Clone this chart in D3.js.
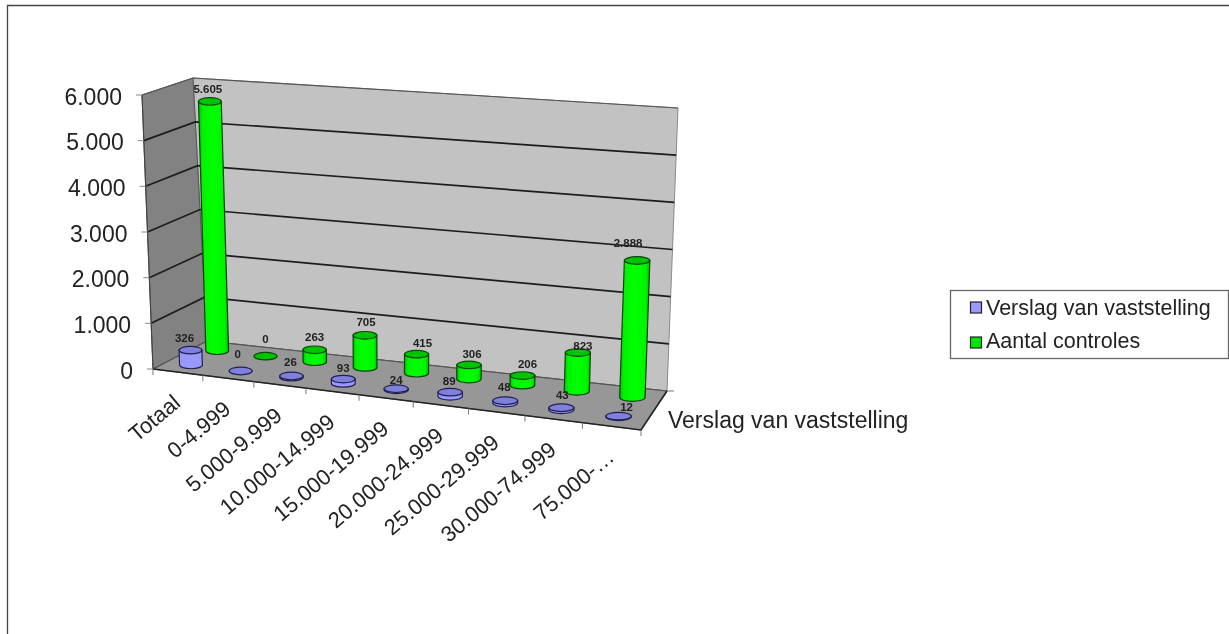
<!DOCTYPE html>
<html>
<head>
<meta charset="utf-8">
<script src="https://cdnjs.cloudflare.com/ajax/libs/d3/7.8.5/d3.min.js"></script>
<style>
html,body{margin:0;padding:0;background:#fff;overflow:hidden}
svg{display:block;filter:blur(0.7px)}
text{font-family:"Liberation Sans",Arial,sans-serif;fill:#222}
</style>
</head>
<body>
<svg id="c" width="1229" height="634"></svg>
<script>
const categories = ["Totaal","0-4.999","5.000-9.999","10.000-14.999","15.000-19.999","20.000-24.999","25.000-29.999","30.000-74.999","75.000-…"];
const verslagValues = [326,0,26,93,24,89,48,43,12];
const controlesValues = [5605,0,263,705,415,306,206,823,2888];
const seriesNames = ["Verslag van vaststelling","Aantal controles"];
const yTicks = [0,1000,2000,3000,4000,5000,6000];
// Hand-placed label nudges (layout only, px)
const verslagLabelDx = [-6,-3,-1,0,0,-1,-1,1,8];
const verslagLabelDy = [-12,-17,-14,-11,-9,-11,-14,-13,-9];
const controlesLabelDx = [-2,0,0,1,6,3,5,5,-9];
const controlesLabelDy = [-12,-17,-13,-13,-11,-11,-12,-7,-17];
const fmt = v => d3.format(",")(v).replace(/,/g,".");

const svg = d3.select("#c");
const defs = svg.append("defs");
const grad = defs.append("linearGradient").attr("id","gGreen");
[[0,"#00c000"],[0.14,"#00f400"],[0.5,"#00ff00"],[0.86,"#00f400"],[1,"#00c000"]].forEach(s=>grad.append("stop").attr("offset",s[0]).attr("stop-color",s[1]));

// Perspective frame of the 3D box: corners [front-left, front-right, back-right, back-left]
const floorQuad = [[153,369],[641,430],[667,391],[207,341]];
const topQuad   = [[142,95],[652,135],[678,108],[193,78]];
const warp = u => u - 0.09*u*(1-u);
function bil(q,u,v){
  const w=warp(u), a=[0,1].map(i=>q[0][i]+(q[1][i]-q[0][i])*w), b=[0,1].map(i=>q[3][i]+(q[2][i]-q[3][i])*w);
  return [a[0]+(b[0]-a[0])*v,a[1]+(b[1]-a[1])*v];
}
const y = d3.scaleLinear().domain([0,6000]).range([0,1]);
const x = d3.scaleBand().domain(categories).range([0,1]);
const depth = d3.scalePoint().domain(seriesNames).range([0.25,0.75]);
function P(u,v,val){const a=bil(floorQuad,u,v),b=bil(topQuad,u,v),t=y(val);return [a[0]+(b[0]-a[0])*t,a[1]+(b[1]-a[1])*t];}
const line=d3.line();

// Frame
svg.append("path").attr("d","M7.5,634V5.5H1229").attr("fill","none").attr("stroke","#444").attr("stroke-width",1.3);

// Walls and floor
const poly=(pts,fill,stroke,sw)=>svg.append("path").attr("d",line(pts)+"Z").attr("fill",fill).attr("stroke",stroke||"none").attr("stroke-width",sw||0);
poly([P(0,1,0),P(1,1,0),P(1,1,6000),P(0,1,6000)],"#c2c2c2","#8a8a8a",1);
poly([P(0,0,0),P(0,1,0),P(0,1,6000),P(0,0,6000)],"#828282","#555",1);
poly([P(0,0,0),P(1,0,0),P(1,1,0),P(0,1,0)],"#979797","#666",1);

// Gridlines
yTicks.forEach(t=>{
  const s = t===0||t===6000 ? {c:"#555",w:1.1} : {c:"#1c1c1c",w:1.7};
  svg.append("path").attr("d",line([P(0,0,t),P(0,1,t),P(1,1,t)])).attr("fill","none").attr("stroke",s.c).attr("stroke-width",s.w);
});
// Front edges
svg.append("path").attr("d",line([P(0,0,0),P(1,0,0),P(1,1,0)])).attr("fill","none").attr("stroke","#222").attr("stroke-width",1.6);
svg.append("path").attr("d",line([P(0,0,0),P(0,0,6000)])).attr("fill","none").attr("stroke","#444").attr("stroke-width",1.1);

// Y axis ticks and labels
yTicks.forEach(t=>{
  const p=P(0,0,t);
  svg.append("line").attr("x1",p[0]-6).attr("x2",p[0]).attr("y1",p[1]).attr("y2",p[1]).attr("stroke","#888");
  svg.append("text").attr("x",p[0]-20).attr("y",p[1]+9.5).attr("text-anchor","end").attr("font-size",23).text(fmt(t));
});

// Category ticks and labels
const edges=categories.map(c=>x(c)).concat([1]);
edges.forEach(u=>{
  const p=P(u,0,0);
  svg.append("line").attr("x1",p[0]).attr("x2",p[0]).attr("y1",p[1]).attr("y2",p[1]+6).attr("stroke","#777");
});
categories.forEach(c=>{
  const p=P(x(c)+x.bandwidth()/2,0,0);
  svg.append("text").attr("transform",`translate(${p[0]+4},${p[1]+33}) rotate(-40)`).attr("text-anchor","end").attr("font-size",22).text(c);
});
// Depth axis
const bk=P(1,1,0);
svg.append("line").attr("x1",bk[0]).attr("y1",bk[1]).attr("x2",bk[0]+7).attr("y2",bk[1]).attr("stroke","#777");
svg.append("text").attr("x",668).attr("y",428).attr("font-size",23).text(seriesNames[0]);

// Cylinders
const ry=3.8;
const radius=d3.scaleLinear().domain([0,1]).range([11.3,12.8]);
const lean=d3.scaleLinear().domain([0,1]).range([-9,11]);   // sideways drift of a bar over the full 0–6000 height
const styles={
  [seriesNames[0]]:{side:"#9999ff",swatch:"#9999ff",top:"#7f7fdc",line:"#20204f"},
  [seriesNames[1]]:{side:"url(#gGreen)",swatch:"#00e800",top:"#00c400",line:"#0a460a"}
};
function cyl(name,c,val){
  const u=x(c)+x.bandwidth()/2, v=depth(name), st=styles[name];
  const b=P(u,v,0), t=P(u,v,val), r=radius(u), tx=b[0]+lean(u)*y(val);
  if(val>0){
    svg.append("path")
      .attr("d",`M${b[0]-r},${b[1]}A${r},${ry} 0 0 0 ${b[0]+r},${b[1]}L${tx+r},${t[1]}L${tx-r},${t[1]}Z`)
      .attr("fill",st.side).attr("stroke",st.line).attr("stroke-width",1.2);
  }
  svg.append("ellipse").attr("cx",tx).attr("cy",t[1]).attr("rx",r).attr("ry",ry)
    .attr("fill",st.top).attr("stroke",st.line).attr("stroke-width",1.2);
  return [tx,t[1]];
}
const labels=[];
categories.forEach((c,i)=>labels.push([cyl(seriesNames[1],c,controlesValues[i]),controlesValues[i],controlesLabelDx[i],controlesLabelDy[i]]));
categories.forEach((c,i)=>labels.push([cyl(seriesNames[0],c,verslagValues[i]),verslagValues[i],verslagLabelDx[i],verslagLabelDy[i]]));
labels.forEach(([p,v,dx,dy])=>{
  svg.append("text").attr("x",p[0]+dx).attr("y",p[1]+dy+4).attr("text-anchor","middle")
    .attr("font-size",11.5).attr("font-weight","bold").text(fmt(v));
});

// Legend
svg.append("rect").attr("x",950.5).attr("y",290.5).attr("width",278).attr("height",68).attr("fill","#fff").attr("stroke","#666").attr("stroke-width",1.3);
seriesNames.forEach((n,i)=>{
  svg.append("rect").attr("x",970.5).attr("y",302+i*35).attr("width",11).attr("height",11)
    .attr("fill",styles[n].swatch).attr("stroke","#222").attr("stroke-width",1.2);
  svg.append("text").attr("x",986).attr("y",314.5+i*33.5).attr("font-size",21.5).text(n);
});
</script>
</body>
</html>
